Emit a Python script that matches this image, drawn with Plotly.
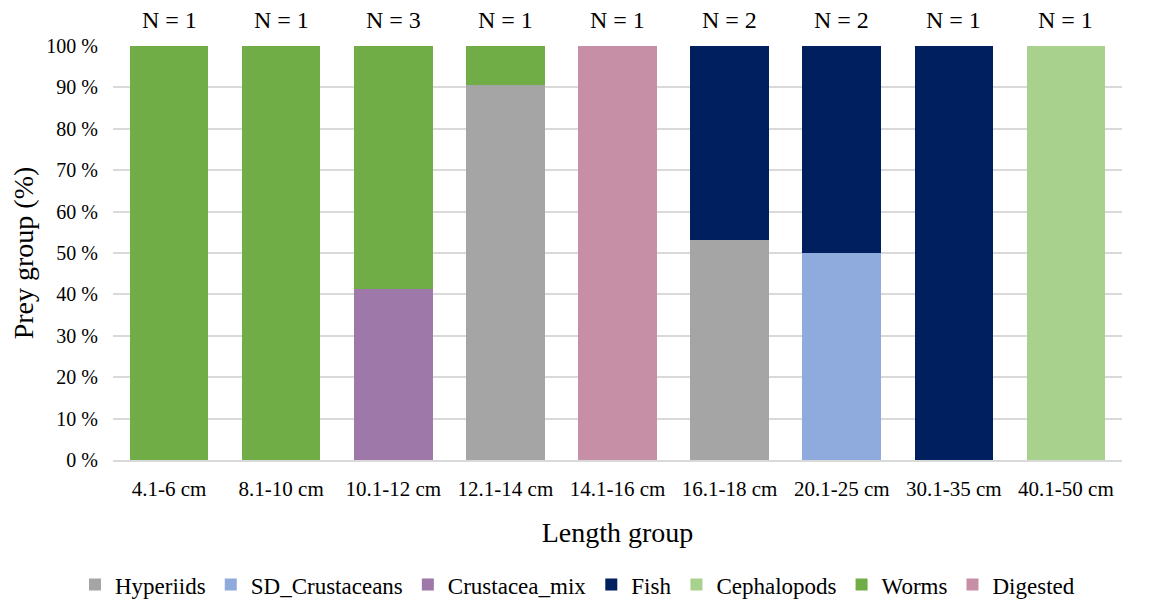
import plotly.graph_objects as go

categories = ["4.1-6 cm", "8.1-10 cm", "10.1-12 cm", "12.1-14 cm", "14.1-16 cm",
              "16.1-18 cm", "20.1-25 cm", "30.1-35 cm", "40.1-50 cm"]
n_labels = ["N = 1", "N = 1", "N = 3", "N = 1", "N = 1", "N = 2", "N = 2", "N = 1", "N = 1"]

hyperiids = [0, 0, 0, 90.7, 0, 53.1, 0, 0, 0]
sd_crustaceans = [0, 0, 0, 0, 0, 0, 50, 0, 0]
crustacea_mix = [0, 0, 41.3, 0, 0, 0, 0, 0, 0]
fish = [0, 0, 0, 0, 0, 46.9, 50, 100, 0]
cephalopods = [0, 0, 0, 0, 0, 0, 0, 0, 100]
worms = [100, 100, 58.7, 9.3, 0, 0, 0, 0, 0]
digested = [0, 0, 0, 0, 100, 0, 0, 0, 0]

series = [
    ("Hyperiids", hyperiids, "#A5A5A5"),
    ("SD_Crustaceans", sd_crustaceans, "#8FAADC"),
    ("Crustacea_mix", crustacea_mix, "#9E78A8"),
    ("Fish", fish, "#001F5F"),
    ("Cephalopods", cephalopods, "#A9D18E"),
    ("Worms", worms, "#70AD47"),
    ("Digested", digested, "#C78FA6"),
]

font_family = "Liberation Serif, Times New Roman, serif"

fig = go.Figure()
for name, vals, color in series:
    fig.add_trace(go.Bar(x=categories, y=vals, name=name,
                         marker=dict(color=color, line=dict(width=0))))

for cat, lab in zip(categories, n_labels):
    fig.add_annotation(x=cat, y=1, xref="x", yref="paper", text=lab,
                       showarrow=False, yanchor="bottom", yshift=11,
                       font=dict(family=font_family, size=24, color="#000000"))

tickvals = list(range(0, 101, 10))
ticktext = [f"{v} %" for v in tickvals]

fig.update_layout(
    barmode="stack",
    bargap=0.3,
    width=1155, height=604,
    margin=dict(l=113, r=33, t=46, b=144),
    paper_bgcolor="white", plot_bgcolor="white",
    font=dict(family=font_family, size=20, color="#000000"),
    xaxis=dict(title=dict(text="Length group", font=dict(size=28), standoff=22),
               tickfont=dict(size=21), showgrid=False, showline=True,
               linecolor="#D9D9D9", linewidth=1.5, ticks="",
               ticklabelstandoff=9, automargin=False),
    yaxis=dict(title=dict(text="Prey group (%)", font=dict(size=28), standoff=4),
               range=[0, 100], tickvals=tickvals, ticktext=ticktext,
               tickfont=dict(size=20), showgrid=True, gridcolor="#D9D9D9",
               gridwidth=1.5, zeroline=False, ticks="",
               ticklabelstandoff=14, automargin=False),
    legend=dict(orientation="h", xref="container", yref="container",
                x=0.5, xanchor="center", y=0.032, yanchor="middle",
                font=dict(size=23), itemwidth=30, traceorder="normal",
                tracegroupgap=0),
)

fig.write_html("out.html")
